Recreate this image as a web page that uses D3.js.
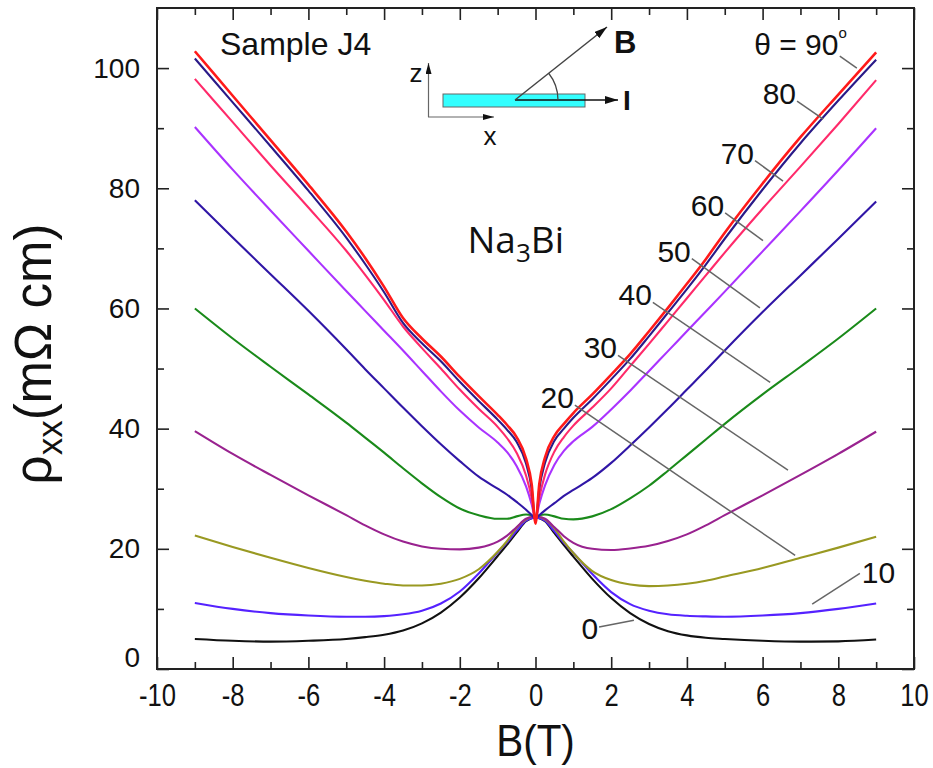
<!DOCTYPE html>
<html>
<head>
<meta charset="utf-8">
<script src="https://cdn.jsdelivr.net/npm/d3@7"></script>
<style>
  body { margin: 0; background: #fff; }
  svg { display: block; font-family: "Liberation Sans", Arial, sans-serif; }
</style>
</head>
<body>
<svg width="933" height="768"></svg>
<script>
const fieldB = [-9, -8, -7, -6, -5, -4.5, -4, -3.5, -3, -2.5, -2, -1.5, -1, -0.75, -0.5, -0.25, -0.1, 0,
                0.1, 0.25, 0.5, 0.75, 1, 1.5, 2, 2.5, 3, 3.5, 4, 4.5, 5, 6, 7, 8, 9];

// rho_xx (mOhm cm) for each tilt angle theta
const rho0  = [5.0, 4.7, 4.55, 4.7, 5.0, 5.3, 5.7, 6.4, 7.6, 9.4, 11.9, 15.1, 18.8, 20.7, 22.7, 24.6, 25.1, 25.2,
               25.1, 24.6, 22.6, 20.6, 18.7, 15.0, 11.8, 9.3, 7.5, 6.3, 5.6, 5.2, 5.0, 4.7, 4.55, 4.6, 4.9];
const rho10 = [11.0, 10.0, 9.3, 8.9, 8.7, 8.7, 8.8, 9.1, 9.7, 10.9, 12.9, 15.9, 19.4, 21.1, 23.0, 24.7, 25.1, 25.2,
               25.1, 24.7, 22.9, 21.0, 19.3, 15.8, 12.8, 10.8, 9.7, 9.1, 8.85, 8.75, 8.7, 8.9, 9.3, 10.0, 10.9];
const rho20 = [22.2, 20.3, 18.5, 16.8, 15.3, 14.7, 14.2, 13.9, 13.9, 14.2, 15.0, 16.6, 19.5, 21.3, 23.5, 24.9, 25.3, 25.3,
               25.3, 24.9, 23.4, 21.2, 19.3, 16.3, 14.8, 14.05, 13.8, 13.9, 14.2, 14.7, 15.4, 16.8, 18.5, 20.2, 22.0];
const rho30 = [39.6, 35.8, 32.3, 28.9, 25.6, 23.9, 22.4, 21.2, 20.4, 20.0, 19.9, 20.2, 21.2, 22.2, 23.6, 25.0, 25.3, 25.3,
               25.3, 25.0, 23.6, 22.1, 21.0, 20.0, 19.8, 20.05, 20.5, 21.3, 22.4, 23.9, 25.6, 28.9, 32.3, 35.8, 39.5];
const rho40 = [60.0, 55.0, 50.3, 45.7, 41.0, 38.5, 36.0, 33.4, 30.9, 28.6, 26.7, 25.6, 25.0, 25.0, 25.4, 25.7, 25.6, 25.3,
               25.6, 25.7, 25.4, 25.0, 24.9, 25.4, 26.6, 28.4, 30.5, 33.0, 35.6, 38.2, 40.8, 45.7, 50.3, 55.0, 60.0];
const rho50 = [78.0, 71.8, 65.7, 59.6, 53.2, 49.9, 46.7, 43.5, 40.4, 37.4, 34.6, 32.0, 30.0, 29.0, 27.8, 26.5, 25.6, 25.0,
               25.6, 26.4, 27.6, 28.8, 29.8, 31.8, 34.3, 37.2, 40.2, 43.3, 46.5, 49.7, 53.0, 59.4, 65.5, 71.6, 77.8];
const rho60 = [90.2, 83.1, 76.3, 69.6, 62.9, 59.6, 56.3, 53.0, 49.6, 46.2, 43.0, 40.2, 37.7, 36.1, 33.8, 30.4, 27.4, 25.0,
               27.5, 30.5, 34.0, 36.3, 37.9, 40.3, 43.2, 46.3, 49.6, 52.9, 56.2, 59.5, 62.8, 69.5, 76.2, 83.0, 90.0];
const rho70 = [98.2, 91.0, 83.8, 76.8, 69.6, 65.6, 61.4, 57.0, 53.4, 50.0, 46.5, 43.3, 40.3, 38.4, 36.0, 32.2, 28.4, 24.8,
               28.5, 32.3, 36.2, 38.6, 40.5, 43.5, 46.7, 50.4, 54.1, 57.9, 61.7, 65.5, 69.3, 76.6, 83.6, 90.7, 98.0];
const rho80 = [101.6, 94.3, 87.0, 79.6, 71.8, 67.4, 62.7, 57.6, 54.2, 51.2, 47.8, 44.6, 41.5, 39.8, 37.8, 34.2, 30.0, 24.6,
               30.0, 34.3, 38.0, 40.0, 41.8, 44.9, 48.2, 51.6, 55.4, 59.3, 63.2, 67.3, 71.6, 79.8, 87.5, 94.6, 101.4];
const rho90 = [102.8, 95.4, 88.0, 80.6, 72.8, 68.4, 63.6, 58.4, 55.0, 52.0, 48.6, 45.4, 42.3, 40.6, 38.6, 35.0, 30.7, 24.2,
               30.8, 35.2, 38.8, 40.8, 42.6, 45.7, 49.0, 52.4, 56.2, 60.1, 64.1, 68.2, 72.6, 80.8, 88.5, 95.6, 102.6];

const angles = [0, 10, 20, 30, 40, 50, 60, 70, 80, 90];
const series = [rho0, rho10, rho20, rho30, rho40, rho50, rho60, rho70, rho80, rho90];
const colors = ["#111111", "#5522ff", "#999922", "#99228f", "#1a8a1a", "#3016a6", "#aa33ff", "#ff2a6a", "#2a1a88", "#ff1a1a"];

// axis ticks
const xMajor = [-10, -8, -6, -4, -2, 0, 2, 4, 6, 8, 10];
const xMinor = [-9, -7, -5, -3, -1, 1, 3, 5, 7, 9];
const yMajor = [0, 20, 40, 60, 80, 100];
const yMinor = [10, 30, 50, 70, 90];

// angle labels with their leader lines (data units)
const labelText  = ["0", "10", "20", "30", "40", "50", "60", "70", "80"];
const leaderFrom = [[1.68, 7.0], [8.57, 15.9], [1.04, 43.9], [2.18, 52.2], [3.10, 61.0], [4.13, 68.3], [5.01, 75.9], [5.80, 84.6], [6.91, 94.5]];
const leaderTo   = [[2.60, 8.1], [7.31, 10.8], [6.86, 18.9], [6.67, 33.1], [6.20, 47.7], [5.93, 60.1], [6.01, 71.3], [6.54, 81.2], [7.60, 91.5]];
const leader90   = [[8.04, 102.0], [8.49, 100.0]];

const svg = d3.select("svg");
const plotLeft = 157, plotRight = 914, plotTop = 8, plotBottom = 669;

const x = d3.scaleLinear().domain([-10, 10]).range([plotLeft, plotRight]);
const y = d3.scaleLinear().domain([0, 110]).range([plotBottom, plotTop]);

// ---- axes: ticks point inward on all four sides
function tickAxis(axis, pos, size, vals, labels) {
    const g = svg.append("g")
        .attr("transform", pos)
        .call(axis.tickValues(vals).tickSize(size).tickFormat(labels ? d => String(d) : ""));
    g.select(".domain").remove();
    g.selectAll(".tick line").attr("stroke", "#222").attr("stroke-width", 1.6);
    return g;
}

const xAxisG = tickAxis(d3.axisBottom(x).tickPadding(14), `translate(0,${plotBottom})`, -12, xMajor, true);
tickAxis(d3.axisBottom(x), `translate(0,${plotBottom})`, -7, xMinor, false);
tickAxis(d3.axisTop(x), `translate(0,${plotTop})`, -12, xMajor, false);
tickAxis(d3.axisTop(x), `translate(0,${plotTop})`, -7, xMinor, false);
const yAxisG = tickAxis(d3.axisLeft(y).tickPadding(17), `translate(${plotLeft},0)`, -12, yMajor, true);
tickAxis(d3.axisLeft(y), `translate(${plotLeft},0)`, -7, yMinor, false);
tickAxis(d3.axisRight(y), `translate(${plotRight},0)`, -12, yMajor, false);
tickAxis(d3.axisRight(y), `translate(${plotRight},0)`, -7, yMinor, false);

// narrow-looking B tick labels
xAxisG.selectAll("text")
    .attr("fill", "#111")
    .attr("transform", "scale(0.8,1)")
    .style("font-size", "32px");
yAxisG.selectAll("text")
    .attr("fill", "#111")
    .style("font-size", "28px")
    .attr("dy", d => d === 0 ? "-0.1em" : "0.32em");

svg.append("rect")
    .attr("x", plotLeft).attr("y", plotTop)
    .attr("width", plotRight - plotLeft).attr("height", plotBottom - plotTop)
    .attr("fill", "none").attr("stroke", "#222").attr("stroke-width", 2);

// ---- curves
const line = d3.line()
    .x((d, i) => x(fieldB[i]))
    .y(d => y(d))
    .curve(d3.curveMonotoneX);

svg.append("g").selectAll("path")
    .data(series)
    .join("path")
    .attr("d", d => line(d))
    .attr("fill", "none")
    .attr("stroke", (d, i) => colors[i])
    .attr("stroke-width", (d, i) => angles[i] === 90 ? 2.6 : 2.1)
    .attr("stroke-linejoin", "round");

// ---- leader lines and angle labels
const ann = svg.append("g");
ann.selectAll("line")
    .data(leaderFrom.concat([leader90[0]]))
    .join("line")
    .attr("x1", d => x(d[0])).attr("y1", d => y(d[1]))
    .attr("x2", (d, i) => x((i < leaderTo.length ? leaderTo[i] : leader90[1])[0]))
    .attr("y2", (d, i) => y((i < leaderTo.length ? leaderTo[i] : leader90[1])[1]))
    .attr("stroke", "#666").attr("stroke-width", 1.5);

ann.selectAll("text")
    .data(labelText)
    .join("text")
    .attr("x", (d, i) => x(leaderFrom[i][0]) + (d === "10" ? 2 : -1))
    .attr("y", (d, i) => y(leaderFrom[i][1]) + (d === "0" ? 12 : d === "10" ? 10 : 3))
    .attr("text-anchor", d => d === "10" ? "start" : "end")
    .style("font-size", "30px")
    .attr("fill", "#111")
    .text(d => d);

const theta = svg.append("text")
    .attr("x", x(leader90[0][0]) + 7)
    .attr("y", y(leader90[0][1]) - 1)
    .attr("text-anchor", "end")
    .style("font-size", "30px")
    .attr("fill", "#111");
theta.append("tspan").text("θ = 90");
theta.append("tspan").attr("dy", -17).style("font-size", "15px").text("o");

// ---- titles
svg.append("text")
    .attr("x", 220).attr("y", 55)
    .style("font-size", "32px").attr("fill", "#111")
    .text("Sample J4");

const na = svg.append("text")
    .attr("x", 564).attr("y", 253)
    .attr("text-anchor", "end")
    .style("font-family", "'Open Sans', sans-serif")
    .style("font-size", "37px").attr("fill", "#111");
na.append("tspan").text("Na");
na.append("tspan").attr("dy", 9).style("font-size", "26px").text("3");
na.append("tspan").attr("dy", -9).text("Bi");

svg.append("text")
    .attr("transform", `translate(${x(0)},756) scale(0.92,1)`)
    .attr("text-anchor", "middle")
    .style("font-size", "44px").attr("fill", "#111")
    .text("B(T)");

const yl = svg.append("text")
    .attr("transform", `translate(51,354) rotate(-90)`)
    .attr("text-anchor", "middle")
    .style("font-size", "51px").attr("fill", "#111");
yl.append("tspan").text("ρ");
yl.append("tspan").attr("dy", 11).style("font-size", "35px").text("xx");
yl.append("tspan").attr("dy", -11).text("(mΩ cm)");

// ---- geometry inset
const defs = svg.append("defs");
function marker(id, len, wid) {
    defs.append("marker")
        .attr("id", id)
        .attr("markerUnits", "userSpaceOnUse")
        .attr("viewBox", `0 0 ${len} ${wid}`)
        .attr("refX", len).attr("refY", wid / 2)
        .attr("markerWidth", len).attr("markerHeight", wid)
        .attr("orient", "auto")
        .append("path")
        .attr("d", `M0,0L${len},${wid / 2}L0,${wid}Z`)
        .attr("fill", "#111");
}
marker("arrBig", 13, 8);
marker("arrSmall", 11, 6);

const inset = svg.append("g");
inset.append("line").attr("x1", 428.5).attr("y1", 117).attr("x2", 428.5).attr("y2", 63)
    .attr("stroke", "#666").attr("stroke-width", 1.2).attr("marker-end", "url(#arrSmall)");
inset.append("line").attr("x1", 428).attr("y1", 117).attr("x2", 494).attr("y2", 117)
    .attr("stroke", "#666").attr("stroke-width", 1.2).attr("marker-end", "url(#arrSmall)");
inset.append("rect").attr("x", 443).attr("y", 94).attr("width", 142).attr("height", 13)
    .attr("fill", "#33ffff").attr("stroke", "#666").attr("stroke-width", 1);
inset.append("line").attr("x1", 515).attr("y1", 100).attr("x2", 618).attr("y2", 100)
    .attr("stroke", "#111").attr("stroke-width", 1.5).attr("marker-end", "url(#arrBig)");
inset.append("line").attr("x1", 515).attr("y1", 100).attr("x2", 607).attr("y2", 27)
    .attr("stroke", "#444").attr("stroke-width", 1.5).attr("marker-end", "url(#arrBig)");
const r = 43, a = Math.atan2(73, 92);
inset.append("path")
    .attr("d", `M${515 + r},100A${r},${r} 0 0 0 ${515 + r * Math.cos(a)},${100 - r * Math.sin(a)}`)
    .attr("fill", "none").attr("stroke", "#444").attr("stroke-width", 1.3);
inset.append("text").attr("x", 416).attr("y", 82).attr("text-anchor", "middle")
    .style("font-size", "26px").attr("fill", "#111").text("z");
inset.append("text").attr("x", 490).attr("y", 145).attr("text-anchor", "middle")
    .style("font-size", "26px").attr("fill", "#111").text("x");
inset.append("text").attr("x", 614).attr("y", 53)
    .style("font-size", "31px").style("font-weight", "bold").attr("fill", "#111").text("B");
inset.append("text").attr("x", 623).attr("y", 110)
    .style("font-size", "28px").style("font-weight", "bold").attr("fill", "#111").text("I");
</script>
</body>
</html>
